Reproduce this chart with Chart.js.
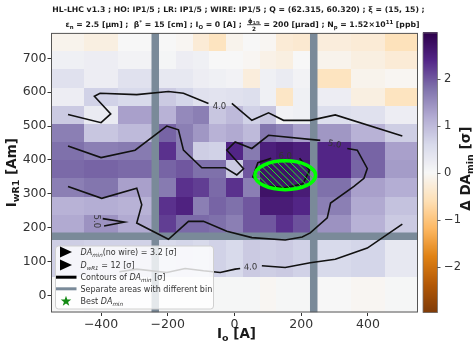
<!DOCTYPE html>
<html>
<head>
<meta charset="utf-8">
<script src="https://cdn.jsdelivr.net/npm/chart.js@4.4.0/dist/chart.umd.min.js"></script>
<style>
  html, body { margin: 0; padding: 0; background: #fff; }
  #wrap { width: 473px; height: 346px; }
</style>
</head>
<body>
<div id="wrap"><canvas id="chart"></canvas></div>
<script>
// bin edges of the scan: I_o [A] (coarse outside |I_o|>237.5, fine inside) and I_wR1 [Am]
const xEdges = [-550, -450, -350, -237.5, -175, -125, -75, -25, 25, 75, 125, 175, 237.5, 350, 450, 550];
const yEdges = [775, 721, 667.4, 613.8, 560.2, 506.6, 453, 399.4, 345.8, 292.2, 238.6, 175, 53.5, -50];

// Delta DA_min [sigma], one row per I_wR1 bin (top to bottom), one value per I_o bin
const deltaDA = [
  [-0.1, -0.2, 0, 0, -0.05, -0.3, -0.5, -0.1, 0, -0.05, -0.3, -0.35, -0.25, -0.3, -0.55],
  [0.15, 0.2, 0.1, 0.05, 0.2, 0.15, 0, 0, -0.05, -0.15, -0.2, 0, -0.1, -0.2, -0.3],
  [0.45, 0.2, 0.45, 0.3, 0.3, 0.2, 0.15, 0.1, -0.25, 0.15, 0.25, 0.1, -0.5, -0.1, -0.05],
  [0.2, 0.7, 0.6, 0.8, 0.65, 0.45, 0.4, 0.45, 0.5, 0.15, -0.45, 0.15, 0.2, -0.2, -0.5],
  [0.8, 0.25, 1.3, 1.1, 1.55, 1.65, 0.85, 1.0, 0.7, 0.85, 0.1, 0.15, 0.5, 0.45, 0.2],
  [1.65, 0.85, 1.0, 1.9, 1.65, 1.4, 1.1, 1.2, 1.0, 1.75, 1.6, 1.3, 1.4, 1.1, 0.75],
  [1.8, 1.65, 1.7, 2.3, 1.65, 0.75, 0.7, 2.4, 1.7, 2.5, 2.6, 2.5, 2.4, 1.9, 1.3],
  [1.85, 1.9, 1.85, 1.9, 2.0, 1.8, 1.8, 0.8, 2.0, 2.7, 2.7, 2.6, 2.4, 1.9, 1.35],
  [1.65, 1.75, 1.3, 1.7, 2.3, 2.2, 1.85, 2.3, 1.65, 2.7, 2.7, 2.55, 1.8, 1.3, 1.15],
  [1.1, 1.15, 1.1, 2.3, 2.45, 1.65, 1.9, 1.8, 2.0, 2.55, 2.55, 2.4, 1.65, 1.2, 0.9],
  [1.2, 1.45, 1.2, 2.2, 1.85, 1.85, 1.8, 1.65, 2.0, 2.0, 2.3, 2.05, 1.45, 1.1, 0.8],
  [0.75, 0.7, 0.7, 0.6, 0.65, 0.6, 0.7, 0.6, 0.8, 0.75, 0.8, 0.7, 0.6, 0.65, 0.3],
  [0, 0.02, 0.02, 0.03, 0.03, 0.03, 0.03, 0.03, 0.03, -0.05, 0.03, 0.03, 0, -0.05, 0.03]
];

const xTicks = [-400, -200, 0, 200, 400];
const yTicks = [0, 100, 200, 300, 400, 500, 600, 700];
const cbarTicks = [-2, -1, 0, 1, 2];
const cbarRange = [-2.97, 2.97];

// lines separating the areas with different bin
const separatorX = [-237.5, 237.5];
const separatorY = [175];

// contour lines of DA_min, null marks the gap left for the inline label
const contour40Upper = [[-499, 534], [-400, 510], [-371, 536], [-420, 588], [-403, 597], [-293, 593], [-198, 602], [-153, 597], [-78, 567], null, [-8, 567], [52, 517], [102, 539], [147, 517], [227, 517], [302, 533], [503, 471]];
const contour50Main = [[-499, 441], [-400, 407], [-298, 429], [-203, 500], [-168, 489], [-153, 429], [-98, 377], [-28, 377], [7, 356], [27, 374], [-23, 429], [2, 453], [52, 434], [102, 473], [257, 458], null, [338, 434], [368, 429], [398, 375], [388, 346], [358, 322], [288, 273], [278, 229], [227, 185], [203, 173], [152, 164], [52, 171], [-23, 190], [-93, 219], [-138, 219], [-198, 166], [-293, 214], [-278, 268], [-293, 317], [-398, 287], [-499, 322]];
const contour50Small = [[-395, 227], [-330, 217], [-391, 205]];
const contour40Lower = [[-345, 70], [-293, 78], [-203, 68], [-148, 80], [-93, 73], [-43, 68], [2, 78], [17, 80], null, [82, 88], [152, 83], [227, 97], [302, 107], [398, 140], [503, 211]];
const contour60 = [[110, 405], null, [195, 405], [225, 370], [205, 330], [150, 318], [90, 325], [55, 350], [70, 392], [110, 405]];
const contourLabels = [
  { text: '4.0', x: -45, y: 556, rot: 0 },
  { text: '5.0', x: 300, y: 446, rot: 12 },
  { text: '5.0', x: -415, y: 219, rot: 90 },
  { text: '4.0', x: 48, y: 83, rot: -3 },
  { text: '6.0', x: 152, y: 408, rot: 0 }
];

// best DA_min region (ellipse centre and half axes in data units)
const bestRegion = { x: 152, y: 355, rx: 91, ry: 42.5 };

const puorStops = ['#7f3b08', '#b35806', '#e08214', '#fdb863', '#fee0b6', '#f7f7f7', '#d8daeb', '#b2abd2', '#8073ac', '#542788', '#2d004b'];
const puorRgb = puorStops.map(h => [1, 3, 5].map(i => parseInt(h.substr(i, 2), 16)));

function cmap(v) {
  let t = (v - cbarRange[0]) / (cbarRange[1] - cbarRange[0]);
  t = Math.min(1, Math.max(0, t)) * (puorRgb.length - 1);
  const i = Math.min(Math.floor(t), puorRgb.length - 2);
  const f = t - i;
  const a = puorRgb[i], b = puorRgb[i + 1];
  return 'rgb(' + a.map((c, k) => Math.round(c + (b[k] - c) * f)).join(',') + ')';
}

const GREY = '#7a8a99';
const FAM = '"DejaVu Sans"';

function toPts(list) {
  const out = [];
  list.forEach((p, i) => {
    if (p) out.push({ x: p[0], y: p[1] });
    else out.push({ x: (list[i - 1][0] + list[i + 1][0]) / 2, y: null });
  });
  return out;
}

// ---- rich text helpers (sub / superscripts, fractions) ----
function fontOf(size, bold, italic) {
  return (italic ? 'italic ' : '') + (bold ? 'bold ' : '') + size + 'px ' + FAM;
}
function partWidth(ctx, p, size, bold) {
  if (typeof p === 'string') p = { t: p };
  if (p.frac) {
    return Math.max(partsWidth(ctx, p.frac[0], size * 0.75, bold), partsWidth(ctx, p.frac[1], size * 0.75, bold)) + 2;
  }
  ctx.font = fontOf((p.sub || p.sup) ? size * 0.7 : size, bold, p.it);
  return ctx.measureText(p.t).width;
}
function partsWidth(ctx, parts, size, bold) {
  return parts.reduce((w, p) => w + partWidth(ctx, p, size, bold), 0);
}
function drawParts(ctx, parts, x, y, size, bold) {
  ctx.textBaseline = 'alphabetic';
  ctx.textAlign = 'left';
  parts.forEach(p => {
    if (typeof p === 'string') p = { t: p };
    const w = partWidth(ctx, p, size, bold);
    if (p.frac) {
      const fs = size * 0.75;
      const wn = partsWidth(ctx, p.frac[0], fs, bold);
      const wd = partsWidth(ctx, p.frac[1], fs, bold);
      drawParts(ctx, p.frac[0], x + (w - wn) / 2, y - size * 0.6, fs, bold);
      drawParts(ctx, p.frac[1], x + (w - wd) / 2, y + size * 0.5, fs, bold);
      ctx.fillRect(x, y - size * 0.38, w, 0.8);
    } else {
      ctx.font = fontOf((p.sub || p.sup) ? size * 0.7 : size, bold, p.it);
      const dy = p.sub ? size * 0.22 : (p.sup ? -size * 0.4 : 0);
      ctx.fillText(p.t, x, y + dy);
    }
    x += w;
  });
}
function drawCentered(ctx, parts, cx, y, size, bold) {
  drawParts(ctx, parts, cx - partsWidth(ctx, parts, size, bold) / 2, y, size, bold);
}

const titleLine1 = ['HL-LHC v1.3 ; HO: IP1/5 ; LR: IP1/5 ; WIRE: IP1/5 ; Q = (62.315, 60.320) ; \u03be = (15, 15) ;'];
const titleLine2 = ['\u03b5', { t: 'n', sub: true }, ' = 2.5 [\u03bcm] ;  \u03b2', { t: '*', sup: true }, ' = 15 [cm] ; I', { t: 'O', sub: true },
  ' = 0 [A] ;  ', { frac: [['\u03d5', { t: '1/5', sub: true }], ['2']] }, ' = 200 [\u03bcrad] ; N', { t: 'p', sub: true },
  ' = 1.52\u00d710', { t: '11', sup: true }, ' [ppb]'];
const DAmin = [{ t: 'DA', it: true }, { t: 'min', sub: true, it: true }];

const heatmap = {
  id: 'heatmap',
  beforeDatasetsDraw(chart) {
    const { ctx, chartArea: a, scales: { x, y } } = chart;
    ctx.save();
    ctx.beginPath();
    ctx.rect(a.left, a.top, a.width, a.height);
    ctx.clip();
    deltaDA.forEach((row, r) => {
      const top = Math.round(y.getPixelForValue(yEdges[r]));
      const bot = Math.round(y.getPixelForValue(yEdges[r + 1]));
      row.forEach((v, c) => {
        const l = Math.round(x.getPixelForValue(xEdges[c]));
        const rr = Math.round(x.getPixelForValue(xEdges[c + 1]));
        ctx.fillStyle = cmap(v);
        ctx.fillRect(l, top, rr - l, bot - top);
      });
    });
    ctx.restore();
  }
};

const overlay = {
  id: 'overlay',
  afterDatasetsDraw(chart) {
    const { ctx, chartArea: a, scales: { x, y } } = chart;

    // best region: hatched green ellipse
    const ex = x.getPixelForValue(bestRegion.x), ey = y.getPixelForValue(bestRegion.y);
    const erx = x.getPixelForValue(bestRegion.x + bestRegion.rx) - ex;
    const ery = ey - y.getPixelForValue(bestRegion.y + bestRegion.ry);
    ctx.save();
    ctx.beginPath();
    ctx.ellipse(ex, ey, erx, ery, 0, 0, Math.PI * 2);
    ctx.clip();
    ctx.strokeStyle = '#22ee22';
    ctx.lineWidth = 1;
    for (let k = -60; k < 60; k += 6.5) {
      ctx.beginPath();
      ctx.moveTo(ex + k - 40, ey - 40);
      ctx.lineTo(ex + k + 40, ey + 40);
      ctx.stroke();
    }
    ctx.restore();
    ctx.save();
    ctx.beginPath();
    ctx.ellipse(ex, ey, erx, ery, 0, 0, Math.PI * 2);
    ctx.strokeStyle = '#00ff00';
    ctx.lineWidth = 3.5;
    ctx.stroke();
    ctx.restore();

    // inline contour labels
    ctx.save();
    ctx.fillStyle = '#333';
    ctx.font = '8.5px ' + FAM;
    ctx.textAlign = 'center';
    ctx.textBaseline = 'middle';
    contourLabels.forEach(l => {
      ctx.save();
      ctx.translate(x.getPixelForValue(l.x), y.getPixelForValue(l.y));
      ctx.rotate(l.rot * Math.PI / 180);
      ctx.fillText(l.text, 0, 0);
      ctx.restore();
    });
    ctx.restore();

    // axes frame
    ctx.save();
    ctx.strokeStyle = '#555';
    ctx.lineWidth = 1;
    ctx.strokeRect(a.left + 0.5, a.top + 0.5, a.width - 1, a.height - 1);
    ctx.restore();

    // legend
    const lx = a.left + 4, ly = a.bottom - 67, lw = 158, lh = 63;
    ctx.save();
    ctx.fillStyle = 'rgba(255,255,255,0.8)';
    ctx.strokeStyle = '#d0d0d0';
    ctx.beginPath();
    ctx.roundRect(lx + 0.5, ly + 0.5, lw, lh, 3);
    ctx.fill();
    ctx.stroke();
    const rows = [6.5, 19.5, 31.7, 43.3, 55.7].map(o => ly + o);
    ctx.fillStyle = '#000';
    [rows[0], rows[1]].forEach(ry => {
      ctx.beginPath();
      ctx.moveTo(lx + 5, ry - 5.5);
      ctx.lineTo(lx + 5, ry + 5.5);
      ctx.lineTo(lx + 17, ry);
      ctx.closePath();
      ctx.fill();
    });
    ctx.lineWidth = 3;
    ctx.strokeStyle = '#000';
    ctx.beginPath(); ctx.moveTo(lx + 1, rows[2]); ctx.lineTo(lx + 21.5, rows[2]); ctx.stroke();
    ctx.strokeStyle = GREY;
    ctx.beginPath(); ctx.moveTo(lx + 1, rows[3]); ctx.lineTo(lx + 21.5, rows[3]); ctx.stroke();
    // star marker
    ctx.fillStyle = '#138a13';
    ctx.beginPath();
    for (let k = 0; k < 10; k++) {
      const r = k % 2 ? 2.2 : 5.5;
      const ang = -Math.PI / 2 + k * Math.PI / 5;
      const px = lx + 11 + r * Math.cos(ang), py = rows[4] + r * Math.sin(ang);
      if (k) ctx.lineTo(px, py); else ctx.moveTo(px, py);
    }
    ctx.closePath();
    ctx.fill();
    ctx.fillStyle = '#333';
    const tx = lx + 25.5, fs = 8;
    drawParts(ctx, [...DAmin, '(no wire) = 3.2 [\u03c3]'], tx, rows[0] + 3, fs, false);
    drawParts(ctx, [{ t: 'D', it: true }, { t: 'wR1', sub: true, it: true }, ' = 12 [\u03c3]'], tx, rows[1] + 3, fs, false);
    drawParts(ctx, ['Contours of ', ...DAmin, ' [\u03c3]'], tx, rows[2] + 3, fs, false);
    drawParts(ctx, ['Separate areas with different bin'], tx, rows[3] + 3, fs, false);
    drawParts(ctx, ['Best ', ...DAmin], tx, rows[4] + 3, fs, false);
    ctx.restore();
  },
  afterDraw(chart) {
    const { ctx, chartArea: a } = chart;
    const cb = chart.scales.y2;

    // colour bar
    const bx = a.right + 5, bw = 14.5;
    ctx.save();
    for (let py = Math.floor(cb.top); py < cb.bottom; py++) {
      ctx.fillStyle = cmap(cb.getValueForPixel(py + 0.5));
      ctx.fillRect(bx, py, bw, 1);
    }
    ctx.strokeStyle = '#777';
    ctx.lineWidth = 0.8;
    ctx.strokeRect(bx, cb.top, bw, cb.bottom - cb.top);
    ctx.strokeStyle = '#333';
    cbarTicks.forEach(v => {
      const py = Math.round(cb.getPixelForValue(v)) + 0.5;
      ctx.beginPath();
      ctx.moveTo(bx + bw, py);
      ctx.lineTo(bx + bw + 3, py);
      ctx.stroke();
    });
    ctx.restore();

    // titles
    ctx.save();
    ctx.fillStyle = '#1a1a1a';
    ctx.font = fontOf(10, true);
    const ts = 10 * 373 / partsWidth(ctx, titleLine1, 10, true);
    drawCentered(ctx, titleLine1, 238.5, 12.3, ts, true);
    drawCentered(ctx, titleLine2, 242.5, 27.3, ts, true);

    // axis titles
    const af = 13.5;
    drawCentered(ctx, ['I', { t: 'o', sub: true }, ' [A]'], (a.left + a.right) / 2 + 2, 338, af, true);
    ctx.save();
    ctx.translate(16, (a.top + a.bottom) / 2);
    ctx.rotate(-Math.PI / 2);
    drawCentered(ctx, ['I', { t: 'wR1', sub: true }, ' [Am]'], 0, 0, af, true);
    ctx.restore();
    ctx.save();
    ctx.translate(470, (a.top + a.bottom) / 2 - 4);
    ctx.rotate(-Math.PI / 2);
    drawCentered(ctx, ['\u0394 DA', { t: 'min', sub: true }, ' [\u03c3]'], 0, 0, af, true);
    ctx.restore();
    ctx.restore();
  }
};

const fmt = v => (v < 0 ? '\u2212' + Math.abs(v) : String(v));
const contourStyle = { borderColor: '#111', borderWidth: 1.6, pointRadius: 0, fill: false, tension: 0, spanGaps: false, order: 1 };
const sepStyle = { borderColor: GREY, borderWidth: 7.5, pointRadius: 0, fill: false, borderCapStyle: 'butt', order: 2 };

Chart.defaults.font.family = FAM;

new Chart(document.getElementById('chart'), {
  type: 'line',
  data: {
    datasets: [
      ...separatorX.map(v => ({ ...sepStyle, data: [{ x: v, y: -50 }, { x: v, y: 775 }] })),
      ...separatorY.map(v => ({ ...sepStyle, data: [{ x: -550, y: v }, { x: 550, y: v }] })),
      { ...contourStyle, data: toPts(contour40Upper) },
      { ...contourStyle, data: toPts(contour50Main) },
      { ...contourStyle, data: toPts(contour50Small) },
      { ...contourStyle, data: toPts(contour40Lower) },
      { ...contourStyle, data: toPts(contour60) }
    ]
  },
  options: {
    responsive: true,
    maintainAspectRatio: false,
    animation: false,
    devicePixelRatio: 1,
    layout: { padding: { top: 31, left: 0, right: 0, bottom: 0 } },
    plugins: { legend: { display: false }, tooltip: { enabled: false } },
    scales: {
      x: {
        type: 'linear', min: -550, max: 550,
        afterFit: s => { s.height = 33.5; },
        afterBuildTicks: s => { s.ticks = xTicks.map(v => ({ value: v })); },
        ticks: { callback: fmt, font: { size: 12.5 }, color: '#333', padding: 1, maxRotation: 0, autoSkip: false },
        grid: { drawOnChartArea: false, drawTicks: true, tickLength: 3.5, color: '#333' },
        border: { display: false }
      },
      y: {
        type: 'linear', position: 'left', min: -50, max: 775,
        afterFit: s => { s.width = 51; },
        afterBuildTicks: s => { s.ticks = yTicks.map(v => ({ value: v })); },
        ticks: { font: { size: 12.5 }, color: '#333', padding: 1, autoSkip: false },
        grid: { drawOnChartArea: false, drawTicks: true, tickLength: 3.5, color: '#333' },
        border: { display: false }
      },
      y2: {
        type: 'linear', position: 'right', min: cbarRange[0], max: cbarRange[1],
        afterFit: s => { s.width = 55; },
        afterBuildTicks: s => { s.ticks = cbarTicks.map(v => ({ value: v })); },
        ticks: { callback: fmt, font: { size: 11.5 }, color: '#333', padding: 26, autoSkip: false },
        grid: { display: false, drawTicks: false },
        border: { display: false }
      }
    }
  },
  plugins: [heatmap, overlay]
});
</script>
</body>
</html>
